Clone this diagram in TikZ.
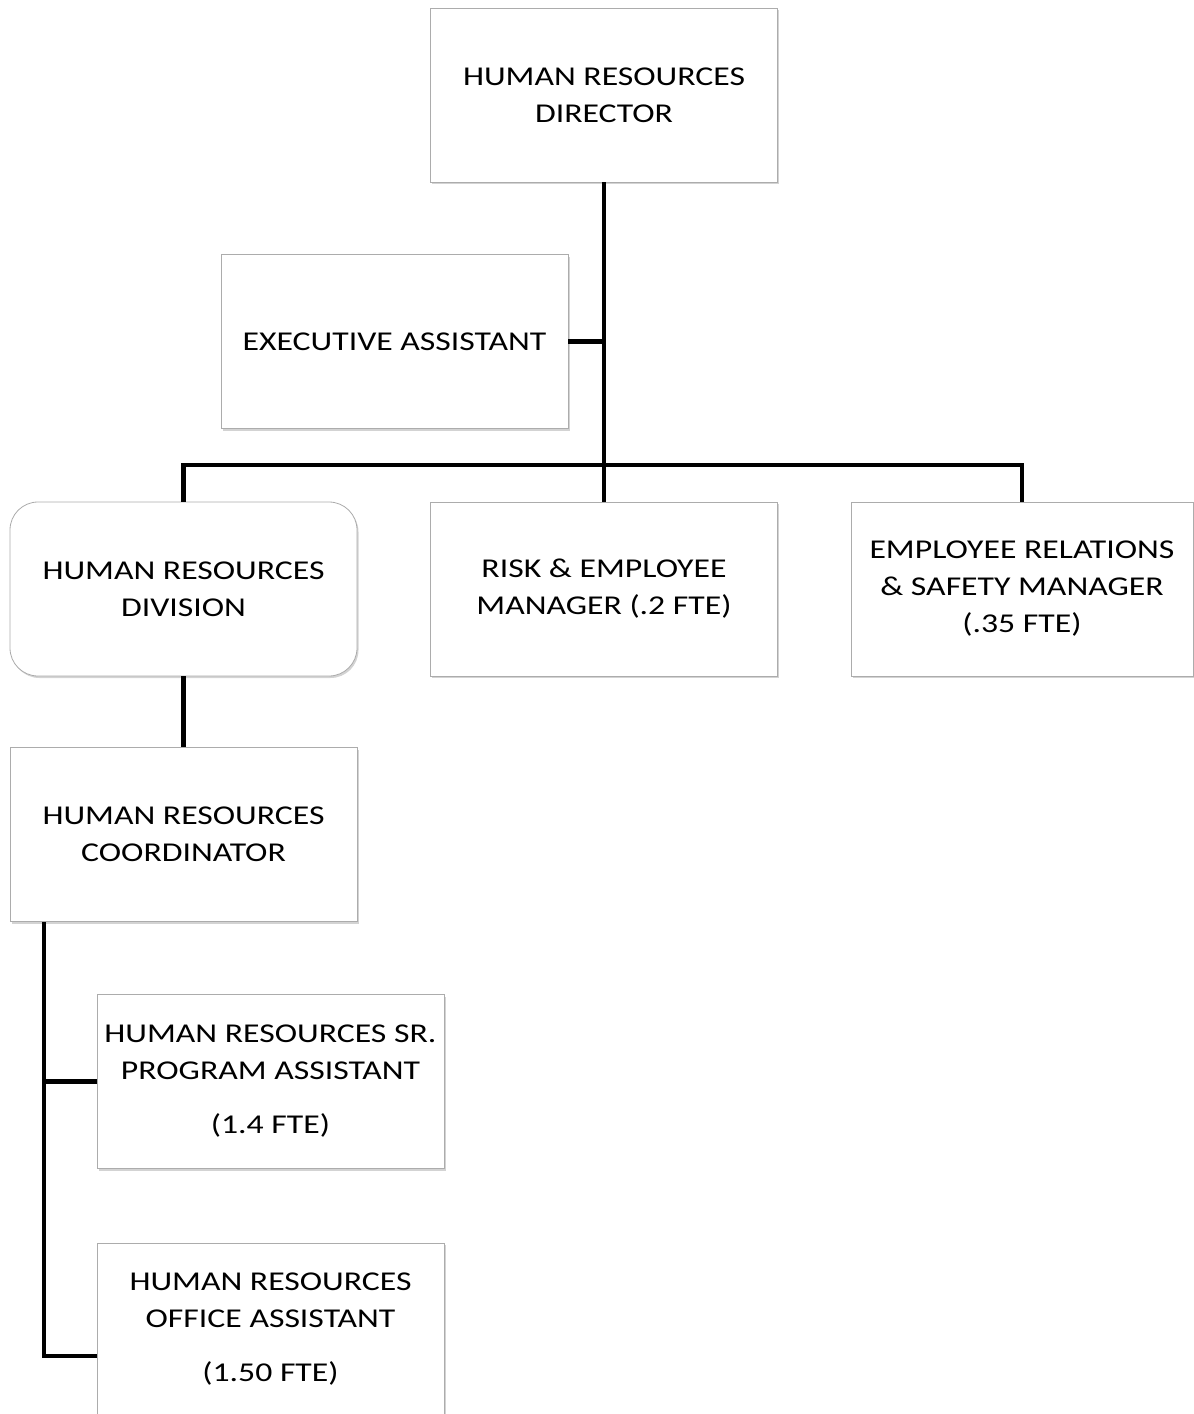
\documentclass[tikz,border=0pt]{standalone}
\usepackage{fontspec}
\setmainfont{Carlito}[FakeStretch=1.24]
\usetikzlibrary{shadows}
\begin{document}
\begin{tikzpicture}[x=1pt,y=-1pt,
  post/.style={draw=gray!65, line width=0.8pt, fill=white,
    minimum width=347pt, minimum height=174pt, inner sep=0pt,
    align=center, font=\fontsize{27.2}{37}\selectfont,
    drop shadow={shadow xshift=1.5pt, shadow yshift=-2pt, opacity=0.35, fill=gray}},
  link/.style={line width=4.5pt, line join=miter}]
\useasboundingbox (0,0) rectangle (1194,1414);

% boxes
\node[post] (dir) at (604,95) {HUMAN RESOURCES\\DIRECTOR};
\node[post] (exec) at (394.5,341.5) {EXECUTIVE ASSISTANT};
\node[post, rounded corners=28pt] (div) at (183.5,589) {HUMAN RESOURCES\\DIVISION};
\node[post] (risk) at (604,589) {RISK \& EMPLOYEE\\MANAGER (.2 FTE)};
\node[post, minimum width=342pt] (er) at (1022,589) {EMPLOYEE RELATIONS\\\& SAFETY MANAGER\\(.35 FTE)};
\node[post] (coord) at (183.5,834.5) {HUMAN RESOURCES\\COORDINATOR};
\node[post] (sr) at (270.5,1081.5) {HUMAN RESOURCES SR.\\PROGRAM ASSISTANT\\[17pt](1.4 FTE)};
\node[post, minimum height=172pt] (office) at (270.5,1329) {HUMAN RESOURCES\\OFFICE ASSISTANT\\[17pt](1.50 FTE)};

% connectors
\coordinate (bus) at (604,465);
\coordinate (tap) at (44,0);
\draw[link] (dir.south) -- (risk.north);
\draw[link] (exec.east) -- (exec.east -| dir.south);
\draw[link] (div.north) |- (bus) -| (er.north);
\draw[link] (div.south) -- (coord.north);
\draw[link] (coord.south -| tap) |- ([yshift=-27pt]office.west);
\draw[link] (tap |- sr.west) -- (sr.west);
\end{tikzpicture}
\end{document}
